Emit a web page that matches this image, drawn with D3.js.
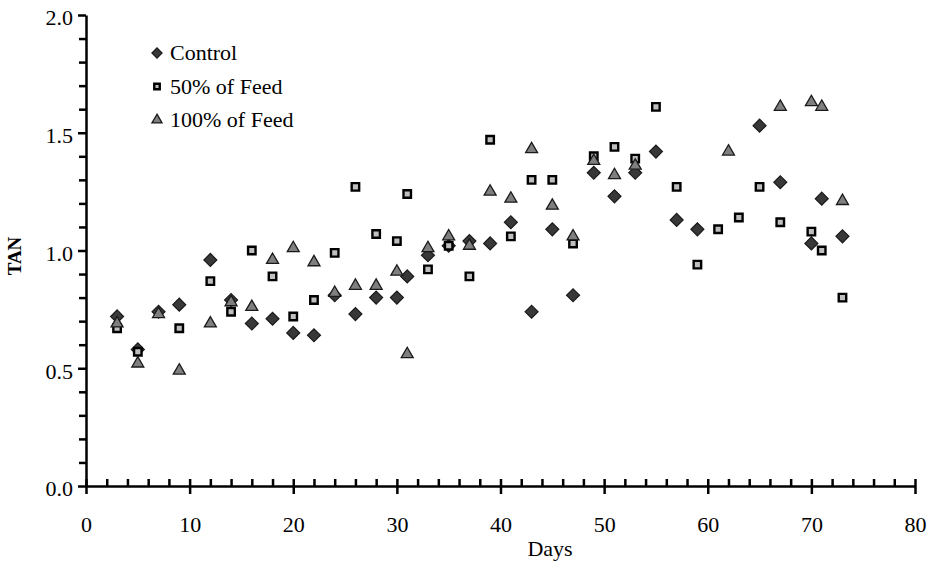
<!DOCTYPE html>
<html>
<head>
<meta charset="utf-8">
<script src="https://cdn.jsdelivr.net/npm/d3@7"></script>
<style>
  body { margin: 0; background: #fff; }
  svg text { font-family: "Times New Roman", "Liberation Serif", Times, serif; fill: #000; }
</style>
</head>
<body>
<script>
// data
const seriesNames = ["Control", "50% of Feed", "100% of Feed"]

const controlDays = [3,5,7,9,12,14,16,18,20,22,24,26,28,30,31,33,35,37,39,41,43,45,47,49,51,53,55,57,59,65,67,70,71,73]
const controlTAN = [0.72,0.58,0.74,0.77,0.96,0.79,0.69,0.71,0.65,0.64,0.81,0.73,0.80,0.80,0.89,0.98,1.02,1.04,1.03,1.12,0.74,1.09,0.81,1.33,1.23,1.33,1.42,1.13,1.09,1.53,1.29,1.03,1.22,1.06]

const feed50Days = [3,5,9,12,14,16,18,20,22,24,26,28,30,31,33,35,37,39,41,43,45,47,49,51,53,55,57,59,61,63,65,67,70,71,73]
const feed50TAN = [0.67,0.57,0.67,0.87,0.74,1.00,0.89,0.72,0.79,0.99,1.27,1.07,1.04,1.24,0.92,1.02,0.89,1.47,1.06,1.30,1.30,1.03,1.40,1.44,1.39,1.61,1.27,0.94,1.09,1.14,1.27,1.12,1.08,1.00,0.80]

const feed100Days = [3,5,7,9,12,14,16,18,20,22,24,26,28,30,31,33,35,37,39,41,43,45,47,49,51,53,62,67,70,71,73]
const feed100TAN = [0.69,0.52,0.73,0.49,0.69,0.78,0.76,0.96,1.01,0.95,0.82,0.85,0.85,0.91,0.56,1.01,1.06,1.02,1.25,1.22,1.43,1.19,1.06,1.38,1.32,1.36,1.42,1.61,1.63,1.61,1.21]

const xMajorTicks = [0,10,20,30,40,50,60,70,80]
const yMajorTicks = [0,0.5,1.0,1.5,2.0]

const width = 937
const height = 561
const serif = "'Times New Roman', 'Liberation Serif', Times, serif"

const svg = d3.select("body").append("svg")
    .attr("width", width)
    .attr("height", height)

const x = d3.scaleLinear().domain([0, 80]).range([86, 915])
const y = d3.scaleLinear().domain([0, 2]).range([486, 15])

// marker styles
const styles = [
    { type: d3.symbolSquare, size: 84, rotate: 45, fill: "#383838", stroke: "#1a1a1a", sw: 1.2 },
    { type: d3.symbolSquare, size: 56, rotate: 0, fill: "#bfbfbf", stroke: "#000", sw: 2.4 },
    { type: d3.symbolTriangle, size: 62, rotate: 0, fill: "#7f7f7f", stroke: "#1a1a1a", sw: 1.3 }
]

const series = [
    controlDays.map((d, i) => ({ day: d, tan: controlTAN[i] })),
    feed50Days.map((d, i) => ({ day: d, tan: feed50TAN[i] })),
    feed100Days.map((d, i) => ({ day: d, tan: feed100TAN[i] }))
]

// axes
const xAxis = svg.append("g")
    .attr("transform", "translate(0," + y(0) + ")")
    .call(d3.axisBottom(x).tickValues(xMajorTicks).tickSizeInner(8).tickSizeOuter(0).tickPadding(22))
xAxis.selectAll(".tick line").attr("y1", -7)
xAxis.append("g")
    .call(d3.axisBottom(x).tickValues(d3.range(2, 80, 2).filter(d => d % 10 != 0)).tickSize(-7).tickFormat(""))
    .select(".domain").remove()

const yAxis = svg.append("g")
    .attr("transform", "translate(" + x(0) + ",0)")
    .call(d3.axisLeft(y).tickValues(yMajorTicks).tickSizeInner(8).tickSizeOuter(0).tickPadding(5).tickFormat(d3.format(".1f")))
yAxis.append("g")
    .call(d3.axisLeft(y).tickValues(d3.range(1, 20).filter(d => d % 5 != 0).map(d => d / 10)).tickSize(7).tickFormat(""))
    .select(".domain").remove()

svg.selectAll("g").attr("font-family", serif)
svg.selectAll(".domain, .tick line")
    .attr("stroke", "#000")
    .attr("stroke-width", 2.5)
svg.selectAll(".tick text")
    .style("font-family", serif)
    .style("font-size", "22px")
yAxis.selectAll(".tick text").attr("dy", "0.45em")

// axis titles
svg.append("text")
    .attr("x", 550)
    .attr("y", 556)
    .attr("text-anchor", "middle")
    .style("font-family", serif)
    .style("font-size", "22px")
    .text("Days")

svg.append("text")
    .attr("transform", "translate(21,256) rotate(-90)")
    .attr("text-anchor", "middle")
    .style("font-family", serif)
    .style("font-size", "19px")
    .style("font-weight", "bold")
    .text("TAN")

// points
series.forEach((data, k) => {
    const st = styles[k]
    svg.append("g")
        .selectAll("path")
        .data(data)
        .enter()
        .append("path")
            .attr("d", d3.symbol().type(st.type).size(st.size))
            .attr("transform", d => "translate(" + x(d.day) + "," + y(d.tan) + ") rotate(" + st.rotate + ")")
            .attr("fill", st.fill)
            .attr("stroke", st.stroke)
            .attr("stroke-width", st.sw)
})

// legend
const legendSizes = [52, 30, 44]
const legend = svg.append("g")
    .selectAll("g")
    .data(seriesNames)
    .enter()
    .append("g")
        .attr("transform", (d, i) => "translate(157," + (53 + i * 33.5) + ")")

legend.append("path")
    .attr("d", (d, i) => d3.symbol().type(styles[i].type).size(legendSizes[i])())
    .attr("transform", (d, i) => "rotate(" + styles[i].rotate + ")")
    .attr("fill", (d, i) => styles[i].fill)
    .attr("stroke", (d, i) => styles[i].stroke)
    .attr("stroke-width", (d, i) => styles[i].sw)

legend.append("text")
    .attr("x", 13)
    .attr("y", 7)
    .style("font-family", serif)
    .style("font-size", "22px")
    .text(d => d)
</script>
</body>
</html>
